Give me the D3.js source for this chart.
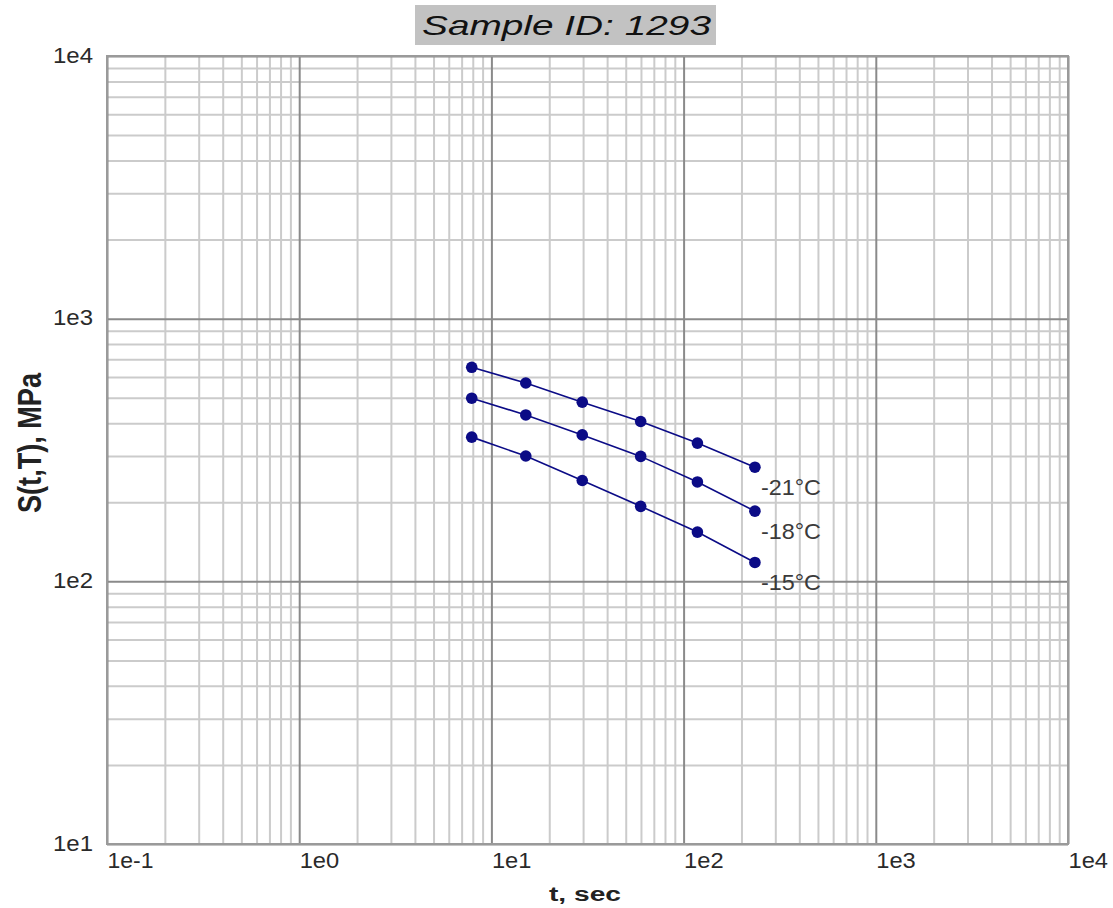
<!DOCTYPE html>
<html>
<head>
<meta charset="utf-8">
<script src="https://cdn.jsdelivr.net/npm/d3@7"></script>
<style>
  html, body { margin: 0; padding: 0; background: #fff; }
  svg { display: block; font-family: Arial, "Liberation Sans", sans-serif; }
</style>
</head>
<body>
<svg id="chart" width="1113" height="908"></svg>
<script>
// ---- data ----
const titleText = "Sample ID: 1293";
const xLabel = "t, sec";
const yLabel = "S(t,T), MPa";
const times = [7.9, 15.1, 29.7, 59.8, 118, 235];
const seriesNames = ["-21°C", "-18°C", "-15°C"];
const s21 = [653, 569, 481, 406, 336, 272];
const s18 = [498, 430, 361, 299, 239, 185];
const s15 = [354, 300, 242, 193, 154, 118];
const xTickValues = [0.1, 1, 10, 100, 1000, 10000];
const xTickLabels = ["1e-1", "1e0", "1e1", "1e2", "1e3", "1e4"];
const yTickValues = [10, 100, 1000, 10000];
const yTickLabels = ["1e1", "1e2", "1e3", "1e4"];

const seriesValues = [s21, s18, s15];

// ---- layout ----
const L = 107, R = 1068, T = 56, B = 844;
const svg = d3.select("#chart");

const x = d3.scaleLog().domain([0.1, 10000]).range([L, R]);
const y = d3.scaleLog().domain([10, 10000]).range([B, T]);

const isDecade = v => Math.abs(Math.log10(v) - Math.round(Math.log10(v))) < 1e-9;

// ---- grid ----
const grid = svg.append("g");
const xMinor = x.ticks().filter(v => !isDecade(v));
const yMinor = y.ticks().filter(v => !isDecade(v));

grid.append("g").attr("transform", `translate(0,${B})`)
  .call(d3.axisBottom(x).tickValues(xMinor).tickSize(-(B - T)).tickFormat(""))
  .call(g => g.select(".domain").remove())
  .call(g => g.selectAll("line").attr("stroke", "#cbcbcb").attr("stroke-width", 2));

grid.append("g").attr("transform", `translate(${L},0)`)
  .call(d3.axisLeft(y).tickValues(yMinor).tickSize(-(R - L)).tickFormat(""))
  .call(g => g.select(".domain").remove())
  .call(g => g.selectAll("line").attr("stroke", "#cbcbcb").attr("stroke-width", 2));

grid.append("g").attr("transform", `translate(0,${B})`)
  .call(d3.axisBottom(x).tickValues(xTickValues).tickSize(-(B - T)).tickFormat(""))
  .call(g => g.select(".domain").remove())
  .call(g => g.selectAll("line").attr("stroke", "#8a8a8a").attr("stroke-width", 2));

grid.append("g").attr("transform", `translate(${L},0)`)
  .call(d3.axisLeft(y).tickValues(yTickValues).tickSize(-(R - L)).tickFormat(""))
  .call(g => g.select(".domain").remove())
  .call(g => g.selectAll("line").attr("stroke", "#8a8a8a").attr("stroke-width", 2));

// frame
svg.append("rect").attr("x", L).attr("y", T).attr("width", R - L).attr("height", B - T)
  .attr("fill", "none").attr("stroke", "#9a9a9a").attr("stroke-width", 2);

// ---- tick labels ----
const labelLen = s => s.length * 12.5 + (s.length > 3 ? -4 : 2);
const xAx = svg.append("g").attr("transform", `translate(0,${B})`)
  .call(d3.axisBottom(x).tickValues(xTickValues).tickSize(0)
    .tickFormat((d, i) => xTickLabels[i]));
xAx.select(".domain").remove();
xAx.selectAll("text")
  .attr("text-anchor", "start").attr("dx", 0).attr("dy", 0).attr("y", 24)
  .attr("font-size", 22).attr("font-family", "Arial, 'Liberation Sans', sans-serif")
  .attr("fill", "#2a2a2a")
  .attr("textLength", d => labelLen(xTickLabels[xTickValues.indexOf(d)]))
  .attr("lengthAdjust", "spacingAndGlyphs");

const yAx = svg.append("g").attr("transform", `translate(${L},0)`)
  .call(d3.axisLeft(y).tickValues(yTickValues).tickSize(0)
    .tickFormat((d, i) => yTickLabels[i]));
yAx.select(".domain").remove();
yAx.selectAll("text")
  .attr("text-anchor", "end").attr("x", -14).attr("dy", 6)
  .attr("font-size", 22).attr("font-family", "Arial, 'Liberation Sans', sans-serif")
  .attr("fill", "#2a2a2a")
  .attr("textLength", 40).attr("lengthAdjust", "spacingAndGlyphs");

// ---- axis titles ----
svg.append("text").attr("x", 585).attr("y", 901)
  .attr("text-anchor", "middle").attr("font-size", 20).attr("font-weight", "bold")
  .attr("fill", "#222").attr("textLength", 72).attr("lengthAdjust", "spacingAndGlyphs")
  .text(xLabel);

svg.append("text")
  .attr("transform", "translate(41,443) scale(1.3,1) rotate(-90)")
  .attr("text-anchor", "middle").attr("font-size", 26).attr("font-weight", "bold")
  .attr("fill", "#222").attr("textLength", 140).attr("lengthAdjust", "spacingAndGlyphs")
  .text(yLabel);

// ---- title ----
svg.append("rect").attr("x", 415).attr("y", 5).attr("width", 301).attr("height", 40)
  .attr("fill", "#c2c2c2");
svg.append("text").attr("x", 422).attr("y", 35)
  .attr("font-size", 28).attr("font-style", "italic").attr("fill", "#111")
  .attr("textLength", 289).attr("lengthAdjust", "spacingAndGlyphs")
  .text(titleText);

// ---- series ----
const line = d3.line().x(d => x(d[0])).y(d => y(d[1]));
const color = "#0b0b86";
seriesValues.forEach((vals, si) => {
  const pts = times.map((t, i) => [t, vals[i]]);
  const g = svg.append("g");
  g.append("path").attr("d", line(pts)).attr("fill", "none")
    .attr("stroke", color).attr("stroke-width", 1.6);
  g.selectAll("circle").data(pts).join("circle")
    .attr("cx", d => x(d[0])).attr("cy", d => y(d[1])).attr("r", 5.8)
    .attr("fill", color);
  const last = pts[pts.length - 1];
  g.append("text").attr("x", x(last[0]) + 6).attr("y", y(last[1]) + 28)
    .attr("font-size", 22).attr("fill", "#3a3a3a")
    .attr("textLength", 60).attr("lengthAdjust", "spacingAndGlyphs")
    .text(seriesNames[si]);
});
</script>
</body>
</html>
